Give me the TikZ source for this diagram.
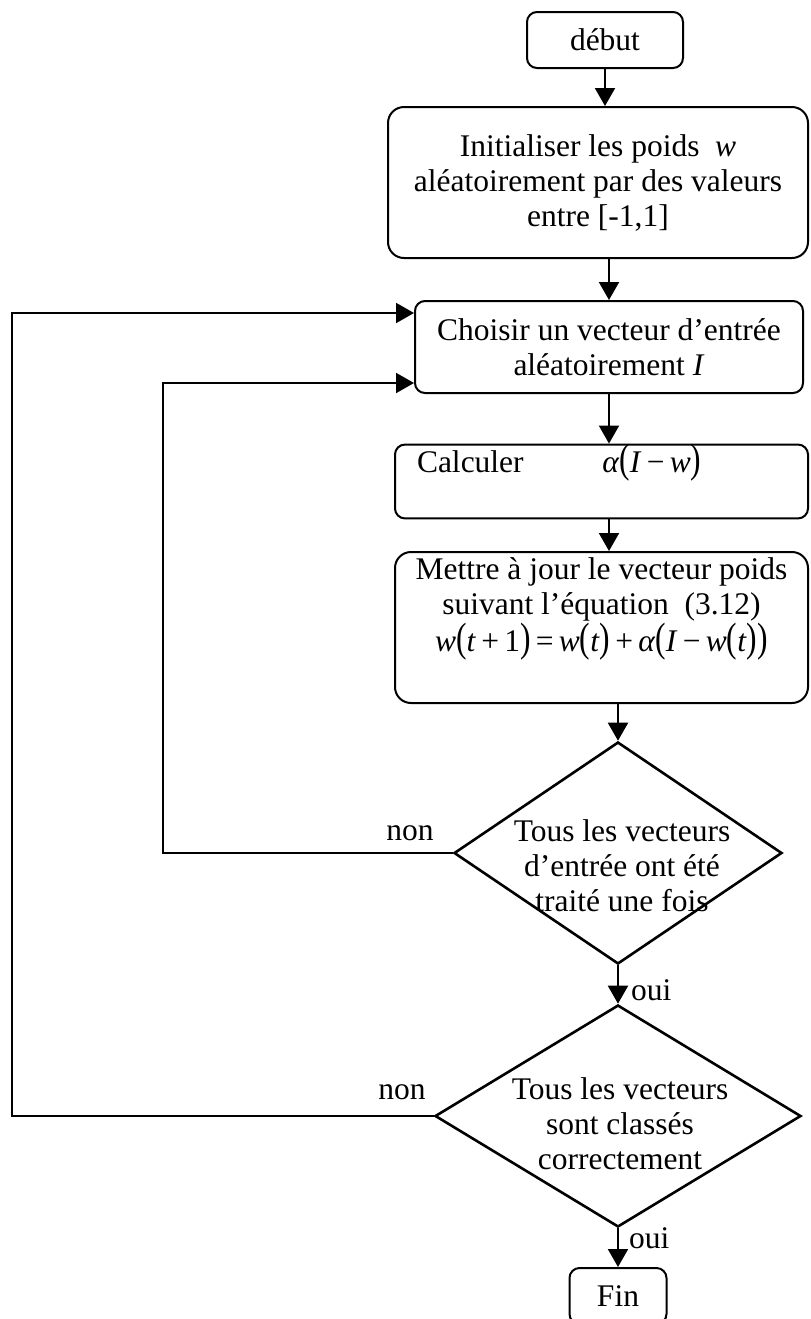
\documentclass[tikz,border=0pt]{standalone}
\usepackage{fontspec}
\setmainfont{Liberation Serif}
\usepackage{graphicx}
\usetikzlibrary{shapes.geometric,arrows.meta}

% stretched brackets for the formulas
\newcommand{\tallp}[1]{\scalebox{1}[1.3]{#1}}

\begin{document}
\begin{tikzpicture}[x=0.5pt,y=-0.5pt,line width=1pt,font=\fontsize{15.75}{17.5}\selectfont]
    % `stepbox' is used for the rounded action boxes.
    % `decision' is used for the two tests (text is put on top of it).
    % `flow' is used for every arrow.
    \tikzstyle{stepbox} = [draw,rounded corners=5pt,align=center,inner sep=0pt]
    \tikzstyle{decision} = [draw,shape=diamond,line width=1.3pt,inner sep=0pt]
    \tikzstyle{flow} = [-{Triangle[length=9pt,width=10pt]}]
    %
    \path[fill=white,use as bounding box] (0,0) rectangle (810,1319);

    % Action boxes.
    \node[stepbox,minimum width=78pt,minimum height=28pt] (debut) at (605,40) {début};
    \node[stepbox,rounded corners=8pt,minimum width=210pt,minimum height=75.5pt] (init) at (598,182.5)
      {Initialiser les poids\ \ \textit{w}\\ aléatoirement par des valeurs\\ entre [-1,1]};
    \node[stepbox,minimum width=194pt,minimum height=46pt] (choix) at (609,347)
      {Choisir un vecteur d’entrée\\ aléatoirement \textit{I}};
    \node[stepbox,align=left,text width=184.5pt,inner xsep=11pt,minimum height=36.5pt] (calc) at (601.5,481.5)
      {Calculer\hspace{2.5em}\textit{α}\tallp{(}\textit{I}\,−\,\textit{w}\tallp{)}\\ \strut};
    \node[stepbox,rounded corners=8pt,minimum width=206.5pt,minimum height=75.5pt] (maj) at (601.5,627.5)
      {Mettre à jour le vecteur poids\\ suivant l’équation\ \ (3.12)\\
       \textit{w}\tallp{(}\textit{t}\,+\,1\tallp{)}\,=\,\textit{w}\tallp{(}\textit{t}\tallp{)}\,+\,\textit{α}\tallp{(}\textit{I}\,−\,\textit{w}\tallp{(}\textit{t}\tallp{))}\\ \strut};

    % Tests.
    \node[decision,minimum width=164pt,minimum height=111pt] (test1) at (618,853) {};
    \node[align=center] (q1) at (622,866) {Tous les vecteurs\\ d’entrée ont été\\ traité une fois};
    \node[decision,minimum width=183pt,minimum height=111pt] (test2) at (618,1116) {};
    \node[align=center] (q2) at (620,1124) {Tous les vecteurs\\ sont classés\\ correctement};

    \node[stepbox,minimum width=48.5pt,minimum height=28pt] (fin) at (618,1296) {Fin};

    % Answers.
    \node (non1) at (410,833) {non};
    \node (non2) at (402,1092) {non};
    \node[anchor=west,inner sep=0pt] (oui1) at (630,990) {oui};
    \node[anchor=west,inner sep=0pt] (oui2) at (628,1238) {oui};

    % Corners of the two loops.
    \coordinate (back1) at (163,853);
    \coordinate (back2) at (12,1116);

    % Draw arrows.
    \draw[flow] (debut) -- (debut |- init.north);
    \draw[flow] (choix |- init.south) -- (choix);
    \draw[flow] (choix) -- (choix |- calc.north);
    \draw[flow] (choix |- calc.south) -- (choix |- maj.north);
    \draw[flow] (test1 |- maj.south) -- (test1);
    \draw[flow] (test1.south) -- (test2.north);
    \draw[flow] (test2.south) -- (fin);
    \draw[flow] (test1.west) -- (back1) |- ([yshift=-18pt]choix.west);
    \draw[flow] (test2.west) -- (back2) |- ([yshift=17pt]choix.west);
\end{tikzpicture}
\end{document}
